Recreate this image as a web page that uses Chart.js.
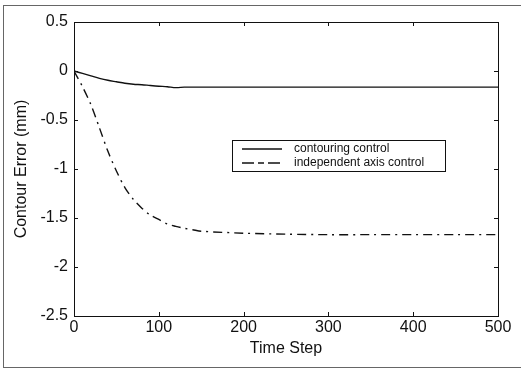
<!DOCTYPE html>
<html>
<head>
<meta charset="utf-8">
<script src="https://cdn.jsdelivr.net/npm/chart.js@4"></script>
<style>
  html, body { margin: 0; padding: 0; background: #fff; }
  #wrap { position: relative; width: 521px; height: 370px; }
  #frame { position: absolute; left: 3px; top: 5px; width: 518px; height: 363px;
           border: 1px solid #666; border-right: none; box-sizing: border-box; pointer-events: none; }
</style>
</head>
<body>
<div id="wrap">
  <canvas id="myChart" width="521" height="370"></canvas>
  <div id="frame"></div>
</div>
<script>
// time steps and the two error curves (mm)
const steps = [0, 10, 20, 30, 40, 50, 60, 70, 80, 90, 100, 110, 120, 130, 140, 150, 200, 250, 300, 350, 400, 450, 500]
const contouring = [0, -0.025, -0.05, -0.075, -0.095, -0.11, -0.125, -0.135, -0.14, -0.148, -0.155, -0.16, -0.17, -0.165, -0.165, -0.165, -0.165, -0.165, -0.165, -0.165, -0.165, -0.165, -0.165]
const independent = [0, -0.16, -0.345, -0.58, -0.82, -1.02, -1.19, -1.31, -1.40, -1.47, -1.515, -1.56, -1.585, -1.605, -1.62, -1.635, -1.655, -1.665, -1.67, -1.67, -1.67, -1.67, -1.67]

const xTicks = [0, 100, 200, 300, 400, 500]
const yTicks = [0.5, 0, -0.5, -1, -1.5, -2, -2.5]
const seriesNames = ['contouring control', 'independent axis control']

const FONT = 'Liberation Sans, Arial, sans-serif'

function toPoints(ys) {
  return steps.map((s, i) => ({ x: s, y: ys[i] }))
}

// box around plot + little inward ticks like matlab
const boxPlugin = {
  id: 'box',
  afterDraw(chart) {
    const { ctx, chartArea: a, scales } = chart
    ctx.save()
    ctx.strokeStyle = '#111'
    ctx.lineWidth = 1
    ctx.strokeRect(a.left + 0.5, a.top + 0.5, a.right - a.left, a.bottom - a.top)
    ctx.beginPath()
    xTicks.forEach((v) => {
      const px = Math.round(scales.x.getPixelForValue(v)) + 0.5
      ctx.moveTo(px, a.bottom); ctx.lineTo(px, a.bottom - 4)
      ctx.moveTo(px, a.top); ctx.lineTo(px, a.top + 4)
    })
    yTicks.forEach((v) => {
      const py = Math.round(scales.y.getPixelForValue(v)) + 0.5
      ctx.moveTo(a.left, py); ctx.lineTo(a.left + 4, py)
      ctx.moveTo(a.right, py); ctx.lineTo(a.right - 4, py)
    })
    ctx.stroke()
    ctx.restore()
  },
}

// legend box inside plot
const legendPlugin = {
  id: 'boxLegend',
  afterDraw(chart) {
    const ctx = chart.ctx
    const x = 232, y = 140, w = 213, h = 31
    ctx.save()
    ctx.fillStyle = '#fff'
    ctx.fillRect(x, y, w, h)
    ctx.strokeStyle = '#111'
    ctx.lineWidth = 1
    ctx.strokeRect(x + 0.5, y + 0.5, w, h)
    ctx.font = '12px ' + FONT
    ctx.textBaseline = 'middle'
    chart.data.datasets.forEach((ds, i) => {
      const ly = y + 9 + i * 14
      ctx.strokeStyle = ds.borderColor
      ctx.lineWidth = 1.3
      ctx.setLineDash(i === 0 ? [] : [12, 4, 6, 4])
      ctx.beginPath()
      ctx.moveTo(x + 10, ly)
      ctx.lineTo(x + 50, ly)
      ctx.stroke()
      ctx.setLineDash([])
      ctx.fillStyle = '#111'
      ctx.fillText(ds.label, x + 62, ly)
    })
    ctx.restore()
  },
}

const ctx = document.getElementById('myChart').getContext('2d')

new Chart(ctx, {
  type: 'line',
  data: {
    datasets: [
      {
        label: seriesNames[0],
        data: toPoints(contouring),
        borderColor: '#111',
        borderWidth: 1.4,
        pointRadius: 0,
        tension: 0.3,
        fill: false,
      },
      {
        label: seriesNames[1],
        data: toPoints(independent),
        borderColor: '#111',
        borderWidth: 1.4,
        borderDash: [9, 5, 2, 5],
        pointRadius: 0,
        tension: 0.3,
        fill: false,
      },
    ],
  },
  options: {
    responsive: false,
    animation: false,
    layout: { padding: { top: 22, right: 23, left: 0, bottom: 0 } },
    plugins: {
      legend: { display: false },
      tooltip: { enabled: false },
    },
    scales: {
      x: {
        type: 'linear',
        min: 0,
        max: 500,
        afterFit: (s) => { s.height = 54 },
        afterBuildTicks: (s) => { s.ticks = xTicks.map((v) => ({ value: v })) },
        grid: { display: false, drawTicks: false },
        border: { display: false },
        ticks: { color: '#111', padding: 2, font: { family: FONT, size: 16 }, maxRotation: 0 },
        title: { display: true, text: 'Time Step', color: '#111', padding: { top: 0, bottom: 12 }, font: { family: FONT, size: 16 } },
      },
      y: {
        min: -2.5,
        max: 0.5,
        afterFit: (s) => { s.width = 74 },
        afterBuildTicks: (s) => { s.ticks = yTicks.map((v) => ({ value: v })) },
        grid: { display: false, drawTicks: false },
        border: { display: false },
        ticks: { color: '#111', padding: 6, font: { family: FONT, size: 16 }, callback: (v) => String(v) },
        title: { display: true, text: 'Contour Error (mm)', color: '#111', padding: { top: 12, bottom: 0 }, font: { family: FONT, size: 16 } },
      },
    },
  },
  plugins: [boxPlugin, legendPlugin],
})
</script>
</body>
</html>
